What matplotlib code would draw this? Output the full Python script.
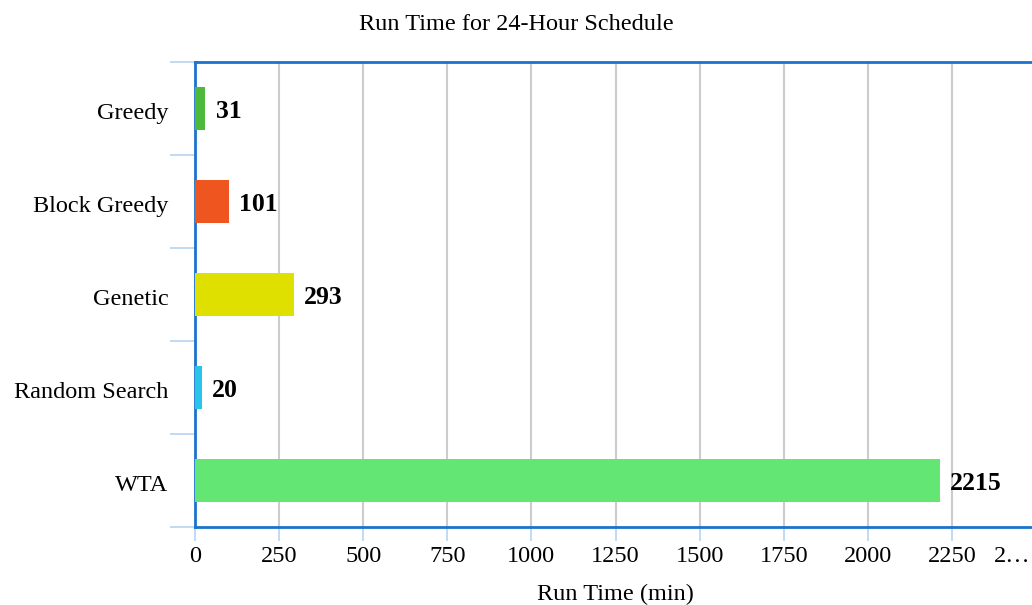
import matplotlib.pyplot as plt
import numpy as np

methods = ['Greedy', 'Block Greedy', 'Genetic', 'Random Search', 'WTA']
run_times = [31, 101, 293, 20, 2215]
bar_colors = ['#4cb83c', '#ef561f', '#e0e000', '#2ac3ea', '#64e674']
xticks = [0, 250, 500, 750, 1000, 1250, 1500, 1750, 2000, 2250, 2500]

plt.rcParams['font.family'] = ['Liberation Serif', 'DejaVu Serif']

fig = plt.figure(figsize=(10.32, 6.05), dpi=100)
ax = fig.add_axes([195 / 1032, 1 - 527 / 605, 841 / 1032, 465 / 605])

y = np.arange(len(methods))
ax.barh(y, run_times, height=0.47, color=bar_colors, zorder=3)
for yi, v in zip(y, run_times):
    ax.text(v + 30, yi + 0.03, str(v), va='center', ha='left', fontsize=18.5,
            fontweight='bold', zorder=4)

ax.set_xlim(0, 2500)
ax.set_ylim(len(methods) - 0.5, -0.5)

# category labels sit between the boundary ticks
ax.set_yticks(y + 0.03)
ax.set_yticklabels(methods, fontsize=17.5)
ax.tick_params(axis='y', which='major', length=0, pad=19)
ax.set_yticks(np.arange(-0.5, len(methods)), minor=True)
ax.tick_params(axis='y', which='minor', length=18, color='#b8d4f0', width=1.2)

# last tick label is clipped at the right edge, drawn separately
ax.set_xticks(xticks)
labels = [str(t) for t in xticks[:-1]] + ['']
ax.set_xticklabels(labels, fontsize=17.5)
ax.tick_params(axis='x', length=10, color='#b8d4f0', width=1.2, pad=4)
ax.annotate('2…', xy=(2500, 0), xycoords=('data', 'axes fraction'),
            xytext=(-4, -14), textcoords='offset points',
            ha='right', va='top', fontsize=17.5, annotation_clip=False)

ax.grid(axis='x', color='#cccccc', linewidth=1.5, zorder=0)
for side in ['left', 'top', 'bottom']:
    ax.spines[side].set_color('#1a73cc')
    ax.spines[side].set_linewidth(2)
ax.spines['right'].set_visible(False)

ax.set_xlabel('Run Time (min)', fontsize=17.5, labelpad=12)
fig.suptitle('Run Time for 24-Hour Schedule', fontsize=17.5, y=0.977)

fig.savefig('out.png', dpi=100)
